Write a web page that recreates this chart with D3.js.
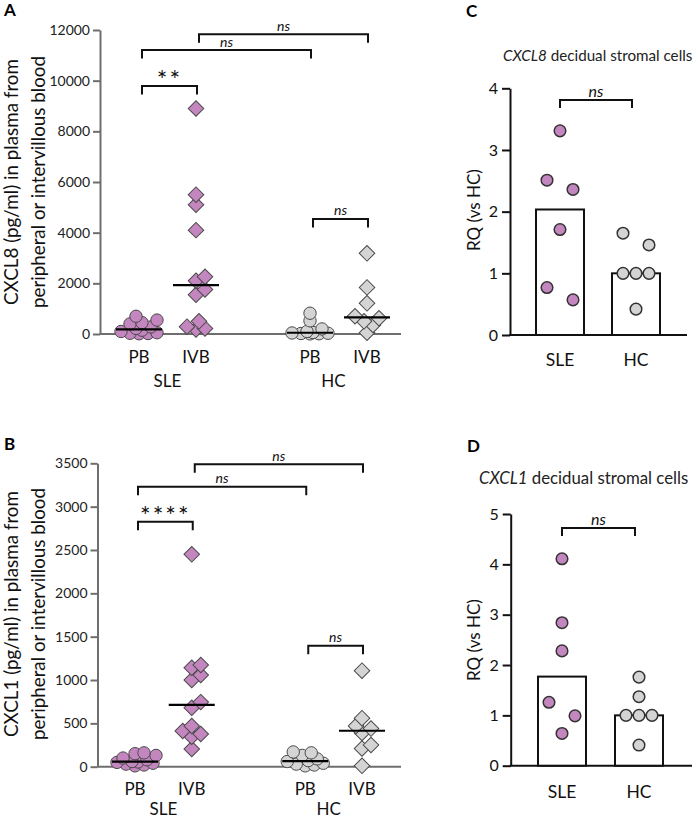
<!DOCTYPE html>
<html>
<head>
<meta charset="utf-8">
<script src="https://cdn.jsdelivr.net/npm/d3@7"></script>
<style>
  body { margin: 0; background: #fff; }
  svg { display: block; font-family: Lato, "Open Sans", sans-serif; }
</style>
</head>
<body>
<svg id="fig" width="697" height="819"></svg>
<script>
// ---- data ----
const groupsAB = ["SLE|PB", "SLE|IVB", "gap", "HC|PB", "HC|IVB"];
const subLabels = ["PB", "IVB", "PB", "IVB"];
const groupLabels = ["SLE", "HC"];

// A: CXCL8 pg/ml
const a_slePB = [10, 20, 30, 50, 100, 150, 220, 280, 400, 450, 550, 700];
const a_sleIVB = [180, 220, 290, 500, 1550, 1760, 2100, 2260, 4100, 5100, 5500, 8900];
const a_hcPB = [5, 10, 20, 30, 40, 60, 100, 200, 520, 820];
const a_hcIVB = [50, 355, 500, 620, 700, 1210, 1840, 3185];
const a_ticks = [0, 2000, 4000, 6000, 8000, 10000, 12000];

// B: CXCL1 pg/ml
const b_slePB = [10, 20, 30, 40, 50, 55, 60, 80, 100, 130, 150, 160];
const b_sleIVB = [204, 346, 377, 412, 470, 680, 745, 1000, 1058, 1142, 1173, 2450];
const b_hcPB = [10, 20, 30, 40, 60, 70, 90, 130, 160, 170];
const b_hcIVB = [10, 210, 250, 390, 440, 470, 560, 1108];
const b_ticks = [0, 500, 1000, 1500, 2000, 2500, 3000, 3500];

// C / D: RQ vs HC
const barCats = ["SLE", "HC"];
const c_sle = [3.31, 2.51, 2.36, 1.71, 0.77, 0.57];
const c_hc = [1.65, 1.46, 1.0, 1.0, 1.0, 0.42];
const d_sle = [4.11, 2.84, 2.28, 1.26, 0.99, 0.64];
const d_hc = [1.76, 1.37, 1.0, 1.0, 1.0, 0.41];
const c_ticks = [0, 1, 2, 3, 4];
const d_ticks = [0, 1, 2, 3, 4, 5];

const SLE_FILL = "#c386bf", HC_FILL = "#d4d4d4", PT_STROKE = "#4a4a4a";

const svg = d3.select("#fig");

// greedy swarm: nudge sideways until the point is far enough from the others
function greedySwarm(vals, y, minDist, step, maxK) {
  const placed = [];
  return vals.map(v => {
    const py = y(v);
    let best = 0, bestD = -1;
    for (let k = 0; k <= maxK; k++) {
      for (const s of (k === 0 ? [0] : [k, -k])) {
        const px = s * step;
        const dmin = placed.length ? d3.min(placed, p => Math.hypot(p[0] - px, p[1] - py)) : Infinity;
        if (dmin >= minDist) { placed.push([px, py]); return px; }
        if (dmin > bestD) { bestD = dmin; best = px; }
      }
    }
    placed.push([best, py]);
    return best;
  });
}

// prism-like rows: points closer than thresh vertically sit side by side
function rowSwarm(vals, y, thresh, step) {
  const idx = d3.range(vals.length).sort((a, b) => vals[b] - vals[a]);
  const offs = new Array(vals.length).fill(0);
  let row = [];
  const flush = () => {
    const n = row.length;
    row.forEach((id, i) => {
      let o;
      if (n % 2) o = i - (n - 1) / 2;
      else { const h = n / 2; o = i < h ? i - h : i - h + 1; }
      offs[id] = o * step;
    });
    row = [];
  };
  idx.forEach(id => {
    if (row.length && Math.abs(y(vals[id]) - y(vals[row[row.length - 1]])) >= thresh) flush();
    row.push(id);
  });
  flush();
  return offs;
}

function bracket(g, x1, x2, yTop, leg, label, kind) {
  g.append("path")
    .attr("d", `M${x1},${yTop + leg}V${yTop}H${x2}V${yTop + leg}`)
    .attr("fill", "none").attr("stroke", "#111").attr("stroke-width", 2);
  const t = g.append("text")
    .attr("x", (x1 + x2) / 2)
    .attr("text-anchor", "middle")
    .attr("fill", "#111")
    .text(label);
  if (kind === "stars") {
    t.attr("y", yTop + 3).attr("font-size", 25).attr("letter-spacing", 2);
  } else {
    t.attr("y", yTop - 3.5).attr("font-size", kind === "big" ? 16 : 14).attr("font-style", "italic");
  }
}

function panelLetter(x, y, l) {
  svg.append("text").attr("x", x).attr("y", y)
    .attr("font-size", 17).attr("font-weight", "bold").text(l);
}

// ---------- scatter panels A and B ----------
function scatterPanel(cfg) {
  const g = svg.append("g");
  const y = d3.scaleLinear().domain([0, d3.max(cfg.ticks)]).range(cfg.yRange);
  const x = d3.scalePoint().domain(groupsAB).range(cfg.xRange);

  // y axis
  const ax = g.append("g")
    .attr("transform", `translate(${cfg.axisX},0)`)
    .call(d3.axisLeft(y).tickValues(cfg.ticks).tickSize(7).tickSizeOuter(0).tickPadding(3).tickFormat(d3.format("d")));
  ax.select(".domain").attr("stroke", "#6e6e6e").attr("stroke-width", 2);
  ax.selectAll(".tick line").attr("stroke", "#6e6e6e").attr("stroke-width", 2);
  ax.selectAll(".tick text").attr("font-size", 14).attr("fill", "#222").attr("font-family", "Lato");

  // baseline
  g.append("line")
    .attr("x1", cfg.axisX).attr("x2", cfg.axisEnd)
    .attr("y1", y(0)).attr("y2", y(0))
    .attr("stroke", "#6e6e6e").attr("stroke-width", 2);

  const series = [
    { key: "SLE|PB", vals: cfg.slePB, shape: "circle", fill: SLE_FILL },
    { key: "SLE|IVB", vals: cfg.sleIVB, shape: "diamond", fill: SLE_FILL },
    { key: "HC|PB", vals: cfg.hcPB, shape: "circle", fill: HC_FILL },
    { key: "HC|IVB", vals: cfg.hcIVB, shape: "diamond", fill: HC_FILL }
  ];

  const circle = d3.symbol().type(d3.symbolCircle).size(Math.PI * 6.2 * 6.2);
  const diamond = d3.symbol().type(d3.symbolSquare).size(11 * 11);

  series.forEach(s => {
    const offs = greedySwarm(s.vals, y, s.shape === "circle" ? 7.5 : 8.5, 3, 7);
    g.append("g").selectAll("path")
      .data(s.vals)
      .join("path")
      .attr("d", s.shape === "circle" ? circle : diamond)
      .attr("transform", (d, i) => `translate(${x(s.key) + offs[i]},${y(d)})` + (s.shape === "diamond" ? " rotate(45)" : ""))
      .attr("fill", s.fill)
      .attr("stroke", PT_STROKE)
      .attr("stroke-width", 1);
    // median line
    const m = d3.median(s.vals);
    g.append("line")
      .attr("x1", x(s.key) - 23).attr("x2", x(s.key) + 23)
      .attr("y1", y(m)).attr("y2", y(m))
      .attr("stroke", "#000").attr("stroke-width", 2.2);
  });

  // x labels
  ["SLE|PB", "SLE|IVB", "HC|PB", "HC|IVB"].forEach((k, i) => {
    g.append("text").attr("x", x(k)).attr("y", cfg.subY)
      .attr("text-anchor", "middle").attr("font-size", 17).attr("fill", "#111")
      .text(subLabels[i]);
  });
  groupLabels.forEach((l, i) => {
    const a = x(l + "|PB"), b = x(l + "|IVB");
    g.append("text").attr("x", (a + b) / 2 - (i ? 5 : 0)).attr("y", cfg.groupY)
      .attr("text-anchor", "middle").attr("font-size", 17).attr("fill", "#111")
      .text(l);
  });

  // y title (two lines)
  cfg.title.forEach((t, i) => {
    g.append("text")
      .attr("transform", `translate(${17.5 + i * 27.5},${cfg.titleY}) rotate(-90)`)
      .attr("text-anchor", "middle").attr("font-size", 18.8).attr("fill", "#111")
      .text(t);
  });

  // significance brackets
  cfg.brackets.forEach(b => {
    bracket(g, x(b[0]) + 3, x(b[1]) + 1, y(b[2]), 8.5, b[3], b[3].startsWith("*") ? "stars" : "small");
  });
}

scatterPanel({
  ticks: a_ticks, yRange: [334, 30], xRange: [139, 367], axisX: 100, axisEnd: 401,
  slePB: a_slePB, sleIVB: a_sleIVB, hcPB: a_hcPB, hcIVB: a_hcIVB,
  subY: 363, groupY: 387, titleY: 182,
  title: ["CXCL8 (pg/ml) in plasma from", "peripheral or intervillous blood"],
  brackets: [
    ["SLE|PB", "SLE|IVB", 9790, "**"],
    ["SLE|PB", "HC|PB", 11210, "ns"],
    ["SLE|IVB", "HC|IVB", 11830, "ns"],
    ["HC|PB", "HC|IVB", 4540, "ns"]
  ]
});

scatterPanel({
  ticks: b_ticks, yRange: [766.7, 463.3], xRange: [135, 362], axisX: 97.5, axisEnd: 401,
  slePB: b_slePB, sleIVB: b_sleIVB, hcPB: b_hcPB, hcIVB: b_hcIVB,
  subY: 795, groupY: 815, titleY: 614,
  title: ["CXCL1 (pg/ml) in plasma from", "peripheral or intervillous blood"],
  brackets: [
    ["SLE|PB", "SLE|IVB", 2827, "****"],
    ["SLE|PB", "HC|PB", 3230, "ns"],
    ["SLE|IVB", "HC|IVB", 3489, "ns"],
    ["HC|PB", "HC|IVB", 1396, "ns"]
  ]
});

// ---------- bar panels C and D ----------
function barPanel(cfg) {
  const g = svg.append("g");
  const y = d3.scaleLinear().domain([0, d3.max(cfg.ticks)]).range(cfg.yRange);
  const x = d3.scalePoint().domain(barCats).range(cfg.xRange);
  const bw = 48;

  const ax = g.append("g")
    .attr("transform", `translate(${cfg.axisX},0)`)
    .call(d3.axisLeft(y).tickValues(cfg.ticks).tickSize(8).tickSizeOuter(0).tickPadding(4).tickFormat(d3.format("d")));
  ax.select(".domain").attr("stroke", "#111").attr("stroke-width", 2);
  ax.selectAll(".tick line").attr("stroke", "#111").attr("stroke-width", 2);
  ax.selectAll(".tick text").attr("font-size", 16).attr("fill", "#111").attr("font-family", "Lato");

  g.append("line")
    .attr("x1", cfg.axisX - 1).attr("x2", cfg.axisEnd)
    .attr("y1", y(0)).attr("y2", y(0))
    .attr("stroke", "#111").attr("stroke-width", 2);

  const series = [
    { key: "SLE", vals: cfg.sle, fill: SLE_FILL },
    { key: "HC", vals: cfg.hc, fill: HC_FILL }
  ];

  // bars at the median
  g.append("g").selectAll("rect")
    .data(series)
    .join("rect")
    .attr("x", d => x(d.key) - bw / 2)
    .attr("width", bw)
    .attr("y", d => y(d3.median(d.vals)))
    .attr("height", d => y(0) - y(d3.median(d.vals)))
    .attr("fill", "#fff")
    .attr("stroke", "#111")
    .attr("stroke-width", 2);

  series.forEach(s => {
    const offs = rowSwarm(s.vals, y, 14, 13);
    g.append("g").selectAll("circle")
      .data(s.vals)
      .join("circle")
      .attr("cx", (d, i) => x(s.key) + offs[i])
      .attr("cy", d => y(d))
      .attr("r", 5.8)
      .attr("fill", s.fill)
      .attr("stroke", "#333")
      .attr("stroke-width", 1.5);
  });

  barCats.forEach(c => {
    g.append("text").attr("x", x(c)).attr("y", cfg.catY)
      .attr("text-anchor", "middle").attr("font-size", 17.5).attr("fill", "#111")
      .text(c);
  });

  g.append("text")
    .attr("transform", `translate(480,${cfg.titleY}) rotate(-90)`)
    .attr("text-anchor", "middle").attr("font-size", 17).attr("fill", "#111")
    .text("RQ (vs HC)");

  const t = g.append("text").attr("x", cfg.headX).attr("y", cfg.headY)
    .attr("font-size", cfg.headSize).attr("fill", "#222");
  t.append("tspan").attr("font-style", "italic").text(cfg.gene);
  t.append("tspan").text(" decidual stromal cells");

  bracket(g, x("SLE"), x("HC") - 4, y(cfg.bracketAt), 8, "ns", "big");
}

barPanel({
  ticks: c_ticks, yRange: [335, 88.3], xRange: [560, 636], axisX: 510, axisEnd: 687,
  sle: c_sle, hc: c_hc, catY: 366, titleY: 210, gene: "CXCL8",
  headX: 503, headY: 61, headSize: 15.2, bracketAt: 3.81
});

barPanel({
  ticks: d_ticks, yRange: [765.7, 514], xRange: [562, 639], axisX: 510.7, axisEnd: 692,
  sle: d_sle, hc: d_hc, catY: 798, titleY: 640, gene: "CXCL1",
  headX: 479, headY: 484, headSize: 16.8, bracketAt: 4.72
});

panelLetter(4, 15.5, "A");
panelLetter(4, 450, "B");
panelLetter(466, 17, "C");
panelLetter(467, 451.5, "D");
</script>
</body>
</html>
